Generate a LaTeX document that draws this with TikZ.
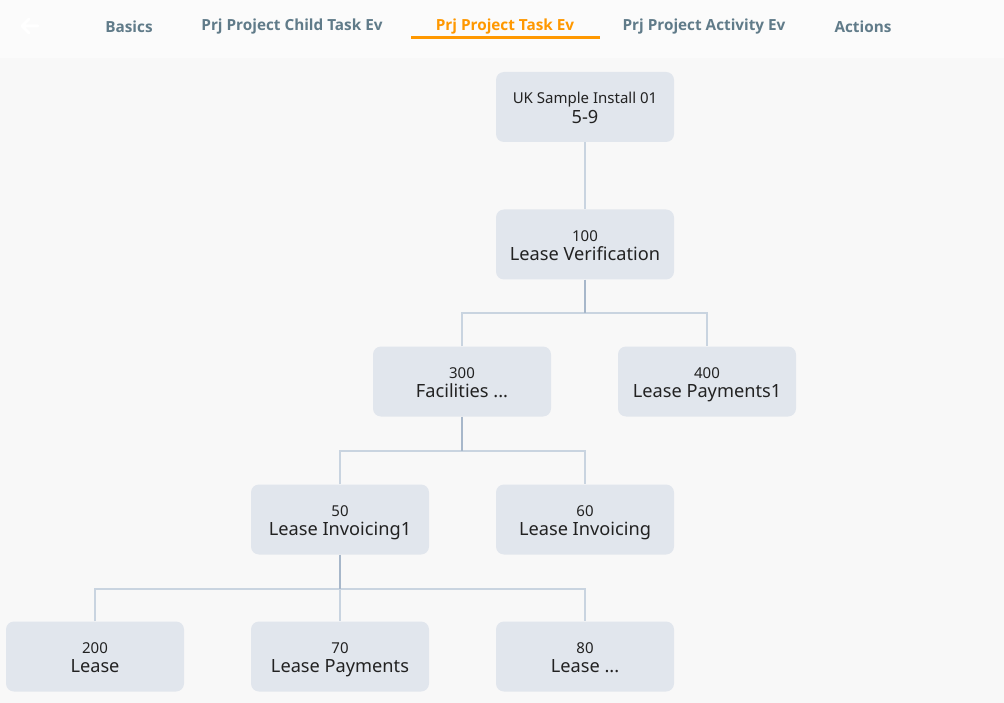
\documentclass[tikz,border=0pt]{standalone}
\usepackage{fontspec}
\setmainfont{Noto Sans}
\newfontfamily\tabfont{Open Sans}
\definecolor{bgbody}{HTML}{F8F8F8}
\definecolor{bghead}{HTML}{FBFBFB}
\definecolor{boxfill}{HTML}{E1E6ED}
\definecolor{linelight}{HTML}{C9D4E0}
\definecolor{linedark}{HTML}{A7B7CA}
\definecolor{tabgray}{HTML}{607B89}
\definecolor{taborange}{HTML}{FF9800}
\definecolor{txt}{HTML}{222222}
\tikzset{
  task/.style={draw=none, fill=boxfill, rounded corners=8pt, minimum width=178pt, minimum height=70pt, inner sep=0pt, align=center, text=txt, font=\fontsize{18.2}{19.5}\selectfont},
  tab/.style={font=\tabfont\fontsize{15.3}{18}\selectfont\bfseries, text=tabgray, anchor=center},
  drop/.style={draw=linelight, line width=1.2pt},
  pdrop/.style={draw=linedark, line width=1.3pt}
}
\newcommand{\tnum}[1]{\raisebox{-1pt}[\height][0pt]{\fontsize{15}{19.5}\selectfont #1}}
\newcommand{\tlab}[1]{\raisebox{-1pt}[\height][0pt]{#1}}
\begin{document}
\begin{tikzpicture}[x=1pt,y=-1pt]
\fill[bgbody] (0,0) rectangle (1004,703);
\fill[bghead] (0,0) rectangle (1004,58);
\useasboundingbox (0,0) rectangle (1004,703);
% header
\draw[white, line width=3pt, line cap=round, line join=round] (22,26) -- (38,26) (29,19) -- (22,26) -- (29,33);
\node[tab] (t1) at (129,27) {Basics};
\node[tab] (t2) at (292,27) {Prj Project Child Task Ev};
\node[tab, text=taborange] (t3) at (505,27) {Prj Project Task Ev};
\node[tab] (t4) at (704,27) {Prj Project Activity Ev};
\node[tab] (t5) at (863,27) {Actions};
\fill[taborange] (411,36.5) rectangle (600,39);
% nodes
\node[task] (n1) at (585,107) {\tnum{UK Sample Install 01}\\\tlab{5-9}};
\node[task] (n100) at (585,244.5) {\tnum{100}\\\tlab{Lease Verification}};
\node[task] (n300) at (462,381.5) {\tnum{300}\\\tlab{Facilities ...}};
\node[task] (n400) at (707,381.5) {\tnum{400}\\\tlab{Lease Payments1}};
\node[task] (n50) at (340,519.5) {\tnum{50}\\\tlab{Lease Invoicing1}};
\node[task] (n60) at (585,519.5) {\tnum{60}\\\tlab{Lease Invoicing}};
\node[task] (n200) at (95,656.5) {\tnum{200}\\\tlab{Lease}};
\node[task] (n70) at (340,656.5) {\tnum{70}\\\tlab{Lease Payments}};
\node[task] (n80) at (585,656.5) {\tnum{80}\\\tlab{Lease ...}};
% connectors
\draw[drop] (n1.south) -- (n100.north);
\coordinate (b1) at (585,313);
\draw[drop] (n300.north) |- (b1) -| (n400.north);
\draw[pdrop] (n100.south) -- (b1);
\coordinate (b2) at (462,451);
\draw[drop] (n50.north) |- (b2) -| (n60.north);
\draw[pdrop] (n300.south) -- (b2);
\coordinate (b3) at (340,589);
\draw[drop] (n200.north) |- (b3) -| (n80.north);
\draw[drop] (b3) -- (n70.north);
\draw[pdrop] (n50.south) -- (b3);
\end{tikzpicture}
\end{document}
